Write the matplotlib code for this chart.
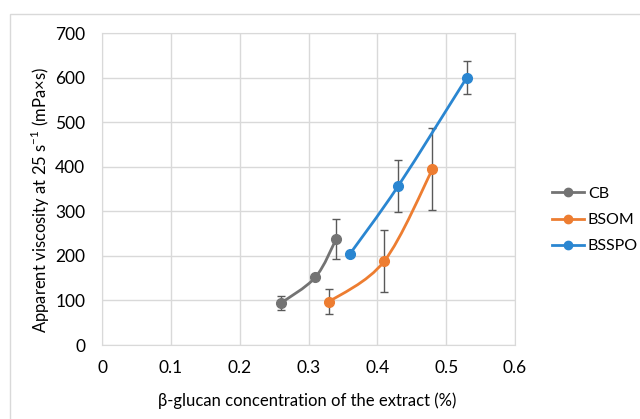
import matplotlib
matplotlib.use("Agg")
import matplotlib.pyplot as plt
import numpy as np
from matplotlib.path import Path
from matplotlib.patches import PathPatch, Rectangle
from matplotlib.lines import Line2D

plt.rcParams['font.family'] = ['Lato', 'DejaVu Sans']
plt.rcParams['mathtext.fontset'] = 'custom'
plt.rcParams['mathtext.rm'] = 'Lato'

# data
series = ['CB', 'BSOM', 'BSSPO']
cb_x = [0.26, 0.31, 0.34]
cb_y = [94, 152, 237]
cb_err = [16, np.nan, 45]
bsom_x = [0.33, 0.41, 0.48]
bsom_y = [97, 188, 394]
bsom_err = [28, 70, 92]
bsspo_x = [0.36, 0.43, 0.53]
bsspo_y = [204, 356, 600]
bsspo_err = [np.nan, 58, 37]

colors = {'CB': '#737373', 'BSOM': '#ED7D31', 'BSSPO': '#2A86D1'}
xlim = (0, 0.6)
ylim = (0, 700)


def smooth_path(xs, ys, t=1/6):
    # Excel-like smoothed line: cubic bezier through the points
    px = np.array(xs) / xlim[1]
    py = np.array(ys) / ylim[1]
    n = len(px)
    verts = [(px[0], py[0])]
    codes = [Path.MOVETO]
    for i in range(n - 1):
        p0 = (px[max(i - 1, 0)], py[max(i - 1, 0)])
        p1 = (px[i], py[i])
        p2 = (px[i + 1], py[i + 1])
        p3 = (px[min(i + 2, n - 1)], py[min(i + 2, n - 1)])
        c1 = (p1[0] + (p2[0] - p0[0]) * t, p1[1] + (p2[1] - p0[1]) * t)
        c2 = (p2[0] - (p3[0] - p1[0]) * t, p2[1] - (p3[1] - p1[1]) * t)
        verts += [c1, c2, p2]
        codes += [Path.CURVE4] * 3
    verts = [(vx * xlim[1], vy * ylim[1]) for vx, vy in verts]
    return Path(verts, codes)


fig = plt.figure(figsize=(6.4, 4.19), dpi=100)
fig.patches.append(Rectangle((10 / 640, -0.1), 1.2, 1 - 14 / 419 + 0.1,
                             transform=fig.transFigure, fill=False,
                             edgecolor='#d9d9d9', lw=1))
ax = fig.add_axes([102 / 640, 74 / 419, 413 / 640, 312 / 419])

data = [('CB', cb_x, cb_y, cb_err), ('BSOM', bsom_x, bsom_y, bsom_err),
        ('BSSPO', bsspo_x, bsspo_y, bsspo_err)]
for name, xs, ys, err in data:
    c = colors[name]
    ax.add_patch(PathPatch(smooth_path(xs, ys), facecolor='none',
                           edgecolor=c, lw=2, zorder=3))
    ax.errorbar(xs, ys, yerr=err, fmt='none', ecolor='#595959',
                elinewidth=1, capsize=3, capthick=1, zorder=2)
    ax.plot(xs, ys, 'o', color=c, ms=7, zorder=4)

ax.set_xlim(*xlim)
ax.set_ylim(*ylim)
ax.set_xticks(np.arange(0, 0.61, 0.1))
ax.set_xticklabels(['0', '0.1', '0.2', '0.3', '0.4', '0.5', '0.6'])
ax.set_yticks(np.arange(0, 701, 100))
ax.grid(True, color='#d9d9d9', lw=1)
ax.set_axisbelow(True)
for s in ax.spines.values():
    s.set_color('#d9d9d9')
ax.tick_params(length=0, labelsize=12.5, colors='#000000')
ax.tick_params(axis='y', pad=12)
ax.tick_params(axis='x', pad=11)

ax.set_xlabel('β-glucan concentration of the extract (%)', fontsize=12)
ax.xaxis.set_label_coords(0.496, -0.152)
ax.set_ylabel(r'Apparent viscosity at 25 s$^{\mathregular{-1}}$ (mPa×s)',
              fontsize=12)
ax.yaxis.set_label_coords(-0.122, 0.465)

handles = [Line2D([], [], color=colors[n], marker='o', ms=6, lw=2) for n in series]
fig.legend(handles, series, loc='center left', bbox_to_anchor=(552 / 640, 1 - 220 / 419),
           frameon=False, fontsize=11.5, handlelength=2.0, handletextpad=0.25,
           labelspacing=0.75, borderpad=0, borderaxespad=0)

fig.savefig('out.png', dpi=100)
